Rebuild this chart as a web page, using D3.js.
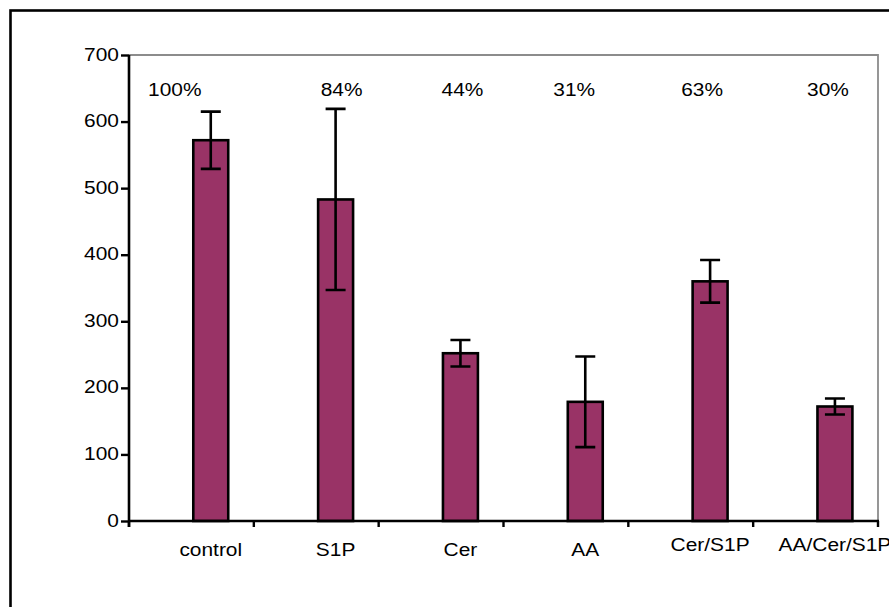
<!DOCTYPE html>
<html>
<head>
<meta charset="utf-8">
<script src="https://cdn.jsdelivr.net/npm/d3@7"></script>
<style>
  html, body { margin: 0; padding: 0; background: #fff; }
  svg { display: block; }
  text { font-family: "Liberation Sans", Arial, sans-serif; fill: #000; }
</style>
</head>
<body>
<svg id="chart" width="889" height="607"></svg>
<script>
// Treatment groups and measured means with their error (± SD)
const categories = ["control", "S1P", "Cer", "AA", "Cer/S1P", "AA/Cer/S1P"];
const means = [572, 483, 252, 179, 360, 172];
const errors = [43, 136, 20, 68, 32, 12];
const yTicks = [0, 100, 200, 300, 400, 500, 600, 700];

// Small layout nudges for the annotation texts (pixels)
const pctShift = [-36, 6, 2, -11, -8, -7];
const catLift = [0, 0, 0, 0, 5, 5];

const svg = d3.select("#chart");
const W = 889, H = 607;
const plot = { left: 129, right: 878, top: 55, bottom: 521 };
const FONT = 19, STRETCH = 1.1;

// Outer frame (runs off the right and bottom edges)
svg.append("rect")
  .attr("x", 10.5).attr("y", 10.5)
  .attr("width", W + 50).attr("height", H + 50)
  .attr("fill", "none").attr("stroke", "#000").attr("stroke-width", 2.6);

const x = d3.scaleBand().domain(categories).range([plot.left, plot.right]).paddingInner(0).paddingOuter(0);
const y = d3.scaleLinear().domain([0, 700]).range([plot.bottom, plot.top]);

const bw = x.bandwidth();
const barW = bw * 0.28;
const barX = c => x(c) + bw * 0.515;
const barC = c => barX(c) + barW / 2;

// Plot-area border (top and right, gray)
svg.append("path")
  .attr("d", `M${plot.left},${plot.top}H${plot.right}V${plot.bottom}`)
  .attr("fill", "none").attr("stroke", "#8c8c8c").attr("stroke-width", 1.8);

// Bars
const data = categories.map((c, i) => ({ c, v: means[i], e: errors[i], i }));
svg.append("g").selectAll("rect").data(data).join("rect")
  .attr("x", d => barX(d.c))
  .attr("y", d => y(d.v))
  .attr("width", barW)
  .attr("height", d => y(0) - y(d.v))
  .attr("fill", "#993366")
  .attr("stroke", "#000").attr("stroke-width", 2.6);

// Error bars
const eb = svg.append("g").attr("stroke", "#000").attr("stroke-width", 2.6).attr("fill", "none");
data.forEach(d => {
  const cx = barC(d.c), hi = y(d.v + d.e), lo = y(d.v - d.e), cap = 10;
  eb.append("path").attr("d",
    `M${cx},${hi}V${lo}M${cx - cap},${hi}H${cx + cap}M${cx - cap},${lo}H${cx + cap}`);
});

// Y axis
const yAxis = svg.append("g").attr("transform", `translate(${plot.left},0)`)
  .call(d3.axisLeft(y).tickValues(yTicks).tickSize(8).tickPadding(3).tickFormat(d3.format("d")));
yAxis.select(".domain").attr("stroke", "#000").attr("stroke-width", 2.6)
  .attr("d", `M0,${plot.top}V${plot.bottom + 6}`);
yAxis.selectAll(".tick line").attr("stroke", "#000").attr("stroke-width", 2.4);
yAxis.selectAll(".tick text")
  .attr("font-size", FONT).attr("font-family", "Liberation Sans, Arial, sans-serif")
  .attr("fill", "#000").attr("dy", null).attr("y", 5)
  .attr("x", null)
  .attr("transform", `translate(-10,0) scale(${STRETCH},1)`);

// X axis (boundaries between categories carry the ticks)
const xb = svg.append("g").attr("stroke", "#000");
xb.append("line").attr("x1", plot.left).attr("x2", plot.right + 1)
  .attr("y1", plot.bottom).attr("y2", plot.bottom).attr("stroke-width", 2.6);
const bounds = categories.map(c => x(c)).concat([plot.right]);
xb.selectAll("line.tk").data(bounds).join("line").attr("class", "tk")
  .attr("x1", d => d).attr("x2", d => d)
  .attr("y1", plot.bottom).attr("y2", plot.bottom + 6).attr("stroke-width", 2.4);

// Category labels
svg.append("g").selectAll("text").data(data).join("text")
  .attr("text-anchor", "middle")
  .attr("font-size", FONT)
  .attr("transform", d => `translate(${barC(d.c)},${556 - catLift[d.i]}) scale(${STRETCH},1)`)
  .text(d => d.c);

// Percent of control above each group
svg.append("g").selectAll("text").data(data).join("text")
  .attr("text-anchor", "middle")
  .attr("font-size", FONT)
  .attr("transform", d => `translate(${barC(d.c) + pctShift[d.i]},96) scale(${STRETCH},1)`)
  .text(d => Math.round(d.v / means[0] * 100) + "%");
</script>
</body>
</html>
